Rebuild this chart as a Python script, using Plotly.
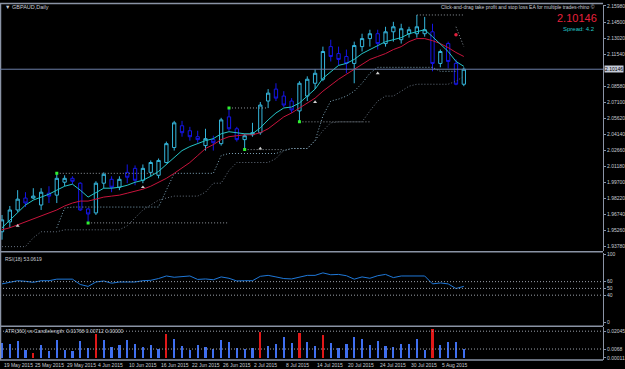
import plotly.graph_objects as go

W, H = 625, 369

# ---------------- data ----------------
date_labels = ["19 May 2015", "25 May 2015", "29 May 2015", "4 Jun 2015", "10 Jun 2015",
               "16 Jun 2015", "22 Jun 2015", "26 Jun 2015", "2 Jul 2015", "8 Jul 2015",
               "14 Jul 2015", "20 Jul 2015", "24 Jul 2015", "30 Jul 2015", "5 Aug 2015"]
date_label_bars = [0, 4, 8, 12, 16, 20, 24, 28, 32, 36, 40, 44, 48, 52, 56]

opens = [1.9515, 1.9606, 1.9716, 1.9826, 1.9826, 1.9762, 1.9871, 1.9853, 1.9972, 2.0008,
         1.9963, 1.9725, 1.9689, 1.9963, 1.9999, 1.9926, 2.0063, 2.0100, 1.9990, 2.0063,
         2.0036, 2.0154, 2.0292, 2.0493, 2.0447, 2.0392, 2.0310, 2.0365, 2.0328, 2.0575,
         2.0465, 2.0365, 2.0410, 2.0429, 2.0721, 2.0831, 2.0767, 2.0721, 2.0630, 2.0767,
         2.0885, 2.0922, 2.1223, 2.1159, 2.1132, 2.1068, 2.1223, 2.1297, 2.1342, 2.1251,
         2.1360, 2.1287, 2.1342, 2.1342, 2.1342, 2.1360, 2.1068, 2.1251, 2.1068, 2.0876]
highs = [1.9670, 1.9753, 1.9899, 1.9880, 1.9917, 1.9917, 1.9935, 2.0054, 2.0036, 2.0027,
         1.9972, 1.9734, 1.9981, 2.0063, 2.0027, 2.0027, 2.0136, 2.0127, 2.0136, 2.0173,
         2.0191, 2.0347, 2.0538, 2.0538, 2.0483, 2.0447, 2.0465, 2.0401, 2.0566, 2.0657,
         2.0483, 2.0419, 2.0520, 2.0712, 2.0831, 2.0885, 2.0812, 2.0748, 2.0904, 2.0949,
         2.1013, 2.1223, 2.1287, 2.1223, 2.1196, 2.1269, 2.1342, 2.1379, 2.1379, 2.1406,
         2.1452, 2.1434, 2.1406, 2.1515, 2.1497, 2.1434, 2.1196, 2.1269, 2.1105, 2.1032]
lows = [1.9442, 1.9552, 1.9698, 1.9743, 1.9816, 1.9716, 1.9780, 1.9780, 1.9935, 1.9954,
        1.9707, 1.9606, 1.9670, 1.9917, 1.9880, 1.9899, 1.9963, 1.9944, 1.9963, 2.0027,
        2.0008, 2.0145, 2.0264, 2.0392, 2.0356, 2.0337, 2.0264, 2.0264, 2.0310, 2.0447,
        2.0347, 2.0273, 2.0392, 2.0410, 2.0657, 2.0721, 2.0666, 2.0611, 2.0529, 2.0721,
        2.0831, 2.0904, 2.1086, 2.1050, 2.0977, 2.0885, 2.1178, 2.1223, 2.1196, 2.1223,
        2.1269, 2.1251, 2.1306, 2.1306, 2.1315, 2.0995, 2.1032, 2.1022, 2.0867, 2.0858]
closes = [1.9625, 1.9716, 1.9816, 1.9780, 1.9844, 1.9880, 1.9844, 2.0008, 2.0008, 1.9981,
          1.9716, 1.9679, 1.9963, 2.0045, 1.9926, 1.9999, 2.0018, 1.9990, 2.0100, 2.0154,
          2.0173, 2.0328, 2.0520, 2.0429, 2.0392, 2.0365, 2.0374, 2.0337, 2.0547, 2.0465,
          2.0365, 2.0401, 2.0429, 2.0684, 2.0794, 2.0748, 2.0684, 2.0639, 2.0885, 2.0922,
          2.0977, 2.1178, 2.1132, 2.1105, 2.1068, 2.1233, 2.1297, 2.1342, 2.1251, 2.1360,
          2.1406, 2.1388, 2.1379, 2.1406, 2.1379, 2.1068, 2.1178, 2.1086, 2.0876, 2.10146]

fast_ma = [1.9552, 1.9625, 1.9698, 1.9762, 1.9807, 1.9835, 1.9862, 1.9899, 1.9935, 1.9954,
           1.9899, 1.9835, 1.9880, 1.9917, 1.9917, 1.9926, 1.9944, 1.9972, 1.9990, 2.0027,
           2.0072, 2.0136, 2.0209, 2.0264, 2.0301, 2.0328, 2.0356, 2.0374, 2.0419, 2.0438,
           2.0429, 2.0419, 2.0419, 2.0474, 2.0547, 2.0611, 2.0657, 2.0666, 2.0703, 2.0767,
           2.0831, 2.0931, 2.0995, 2.1050, 2.1068, 2.1105, 2.1159, 2.1196, 2.1233, 2.1269,
           2.1287, 2.1306, 2.1342, 2.1360, 2.1379, 2.1315, 2.1251, 2.1178, 2.1086, 2.1041]
slow_ma = [1.9533, 1.9552, 1.9579, 1.9606, 1.9634, 1.9661, 1.9689, 1.9716, 1.9753, 1.9780,
           1.9798, 1.9798, 1.9816, 1.9835, 1.9844, 1.9853, 1.9871, 1.9890, 1.9908, 1.9935,
           1.9972, 2.0008, 2.0054, 2.0100, 2.0154, 2.0218, 2.0283, 2.0319, 2.0365, 2.0392,
           2.0401, 2.0410, 2.0410, 2.0429, 2.0465, 2.0520, 2.0575, 2.0611, 2.0657, 2.0703,
           2.0748, 2.0812, 2.0867, 2.0922, 2.0968, 2.1013, 2.1059, 2.1105, 2.1132, 2.1159,
           2.1196, 2.1223, 2.1269, 2.1297, 2.1297, 2.1278, 2.1251, 2.1214, 2.1169, 2.1132]

# trailing-stop style dotted indicator lines (None = not drawn)
stop_upper = [None, None, None, None, None, None, None, 1.9552, 1.9734, 1.9743,
              1.9743, 1.9743, 1.9743, 1.9743, 1.9743, 1.9743, 1.9743, 1.9743, 1.9743, 1.9743,
              1.9743, 1.9899, 2.0054, 2.0054, 2.0054, 2.0054, 2.0054, 2.0054, 2.0218, 2.0237,
              2.0237, 2.0237, 2.0237, 2.0237, 2.0237, 2.0237, 2.0264, 2.0283, 2.0283, 2.0283,
              2.0356, 2.0584, 2.0721, 2.0739, 2.0767, 2.0812, 2.0885, 2.0977, 2.1032, 2.1032,
              2.1032, 2.1032, 2.1032, 2.1032, 2.1032, 2.1032, 2.0995, 2.0995, 2.0995, None]
stop_lower = [1.9378, 1.9378, 1.9378, 1.9378, 1.9460, 1.9515, 1.9515, 1.9515, 1.9533, 1.9533,
              1.9533, 1.9533, 1.9533, 1.9533, 1.9533, 1.9533, 1.9570, 1.9643, 1.9716, 1.9762,
              1.9807, 1.9826, 1.9844, 1.9844, 1.9844, 1.9844, 1.9880, 1.9963, 1.9963, 2.0081,
              2.0154, 2.0154, 2.0154, 2.0154, 2.0154, 2.0191, 2.0264, 2.0283, 2.0283, 2.0283,
              2.0356, 2.0447, 2.0520, 2.0529, 2.0529, 2.0529, 2.0529, 2.0630, 2.0721, 2.0767,
              2.0767, 2.0812, 2.0858, 2.0876, 2.0876, 2.0876, 2.0876, 2.0876, 2.0904, 2.0949]
stop_down = [None] * 58 + [2.1406, 2.1223]

# fractal levels: (start bar, end bar, price)
fractal_bars = [7, 11, 29, 31, 38]
fractal_ends = [20, 29, 34, 36, 47]
fractal_prices = [2.0054, 1.9597, 2.0657, 2.0273, 2.0529]
top_level_bars = [53, 59]
top_level_price = 2.1515
signal_bars = [2, 18, 33, 40, 48]
signal_prices = [1.9570, 1.9926, 2.0283, 2.0712, 2.0977]
sell_signal_bar = [58]
sell_signal_price = [2.1333]

rsi = [56.7, 59.5, 61.4, 60.5, 59.0, 61.4, 61.4, 63.7, 63.7, 63.7,
       55.8, 53.0, 59.5, 61.0, 57.7, 59.5, 59.5, 59.5, 61.4, 62.0,
       64.6, 68.4, 66.5, 67.4, 68.4, 63.3, 64.0, 62.8, 67.0, 65.0,
       61.0, 61.4, 61.4, 67.9, 69.3, 67.0, 64.6, 64.0, 67.0, 69.3,
       69.3, 73.0, 70.2, 70.7, 68.8, 63.7, 67.0, 65.0, 68.8, 70.7,
       66.0, 68.4, 68.4, 68.4, 68.4, 56.7, 58.1, 56.7, 49.8, 53.06]

candle_len = [0.0112, 0.0107, 0.0127, 0.0061, 0.0036, 0.0094, 0.0051, 0.0132, 0.0056, 0.0051,
              0.0127, 0.0074, 0.0183, 0.0137, 0.0081, 0.0094, 0.0137, 0.0102, 0.0081, 0.0097,
              0.0069, 0.0183, 0.0140, 0.0086, 0.0061, 0.0094, 0.0079, 0.0069, 0.0132, 0.0122,
              0.0076, 0.0069, 0.0074, 0.0196, 0.0086, 0.0107, 0.0160, 0.0114, 0.0188, 0.0122,
              0.0091, 0.0173, 0.0112, 0.0076, 0.0102, 0.0157, 0.0140, 0.0094, 0.0130, 0.0086,
              0.0081, 0.0102, 0.0102, 0.0140, 0.0056, 0.0216, 0.0094, 0.0122, 0.0122, 0.0066]
above_atr_bars = [4, 12, 21, 33, 38, 41, 55]

price_ticks = [2.1598, 2.1450, 2.1302, 2.1154, 2.0858, 2.0710, 2.0562, 2.0414, 2.0266,
               2.0118, 1.9970, 1.9822, 1.9674, 1.9526, 1.9378]
price_tick_text = ["2.15980", "2.14500", "2.13020", "2.11540", "2.08580", "2.07100", "2.05620",
                   "2.04140", "2.02660", "2.01180", "1.99700", "1.98220", "1.96740", "1.95260", "1.93780"]
current_price = 2.10146
rsi_levels = [60, 50, 40]
rsi_ticks = [100, 60, 50, 40, 0]
atr_ticks = [0.02045, 0.0068, 0.00011]
atr_tick_text = ["0.02045", "0.0068", "0.00011"]

# ---------------- geometry ----------------
def ydom(top, bottom):
    return [1 - bottom / H, 1 - top / H]

AX_R = 604 / W
BAR_PX = 7.84
X0_PX = 2.0
x_range = [-X0_PX / BAR_PX, (604 - X0_PX) / BAR_PX]
n = len(closes)
xs = list(range(n))

FRAME = "#8a93a5"
TXT = "#c9ccd4"
FONT = "Liberation Sans"
DOT = "1px,2px"

fig = go.Figure()

# dotted indicator lines (behind candles)
fig.add_trace(go.Scatter(x=xs, y=stop_lower, mode="lines", connectgaps=False,
                         line=dict(color="#65707e", width=1, dash=DOT),
                         xaxis="x", yaxis="y", showlegend=False, hoverinfo="skip"))
fig.add_trace(go.Scatter(x=xs, y=stop_upper, mode="lines", connectgaps=False,
                         line=dict(color="#7ea4b8", width=1, dash=DOT),
                         xaxis="x", yaxis="y", showlegend=False, hoverinfo="skip"))
fig.add_trace(go.Scatter(x=xs, y=stop_down, mode="lines", connectgaps=False,
                         line=dict(color="#8a939d", width=1, dash=DOT),
                         xaxis="x", yaxis="y", showlegend=False, hoverinfo="skip"))
for b0, b1, pr in zip(fractal_bars, fractal_ends, fractal_prices):
    fig.add_trace(go.Scatter(x=[b0, b1], y=[pr, pr], mode="lines",
                             line=dict(color="#8f959d", width=1, dash=DOT),
                             xaxis="x", yaxis="y", showlegend=False, hoverinfo="skip"))
fig.add_trace(go.Scatter(x=top_level_bars, y=[top_level_price] * 2, mode="lines",
                         line=dict(color="#8f959d", width=1, dash=DOT),
                         xaxis="x", yaxis="y", showlegend=False, hoverinfo="skip"))

fig.add_trace(go.Candlestick(
    x=xs, open=opens, high=highs, low=lows, close=closes,
    increasing=dict(line=dict(color="#35b6dc", width=1), fillcolor="#000000"),
    decreasing=dict(line=dict(color="#1515e6", width=1), fillcolor="#000000"),
    whiskerwidth=0, xaxis="x", yaxis="y", showlegend=False, hoverinfo="skip"))
fig.add_trace(go.Scatter(x=xs, y=slow_ma, mode="lines", line=dict(color="#c8143c", width=1),
                         xaxis="x", yaxis="y", showlegend=False))
fig.add_trace(go.Scatter(x=xs, y=fast_ma, mode="lines", line=dict(color="#25c4c8", width=1),
                         xaxis="x", yaxis="y", showlegend=False))

fig.add_trace(go.Scatter(x=fractal_bars, y=fractal_prices, mode="markers",
                         marker=dict(color="#30f030", size=3, symbol="square"),
                         xaxis="x", yaxis="y", showlegend=False, hoverinfo="skip"))
fig.add_trace(go.Scatter(x=signal_bars, y=signal_prices, mode="markers",
                         marker=dict(color="#cfcfcf", size=3.5, symbol="triangle-up"),
                         xaxis="x", yaxis="y", showlegend=False, hoverinfo="skip"))
fig.add_trace(go.Scatter(x=sell_signal_bar, y=sell_signal_price, mode="markers",
                         marker=dict(color="#e0203c", size=3.5, symbol="circle"),
                         xaxis="x", yaxis="y", showlegend=False, hoverinfo="skip"))

fig.add_trace(go.Scatter(x=xs, y=rsi, mode="lines", line=dict(color="#1f78d8", width=1),
                         xaxis="x2", yaxis="y2", showlegend=False))

bar_colors = ["#e01818" if i in above_atr_bars else "#3f6ff0" for i in xs]
fig.add_trace(go.Bar(x=xs, y=candle_len, marker=dict(color=bar_colors, line=dict(width=0)),
                     width=0.28, xaxis="x3", yaxis="y3", showlegend=False))

axis_common = dict(showgrid=False, zeroline=False, showticklabels=False, ticks="",
                   range=x_range, domain=[0, AX_R], fixedrange=True)
ytick_common = dict(showgrid=False, zeroline=False, side="right", ticks="outside", ticklen=2,
                    tickcolor=FRAME, tickfont=dict(size=5, color=TXT, family=FONT),
                    showline=True, linecolor=FRAME, linewidth=1, mirror=False)

fig.update_layout(
    width=W, height=H, margin=dict(l=0, r=0, t=0, b=0),
    paper_bgcolor="#000000", plot_bgcolor="#000000",
    showlegend=False, bargap=0, boxgap=0.4,
    xaxis=dict(anchor="y", rangeslider=dict(visible=False), **axis_common),
    xaxis2=dict(anchor="y2", matches="x", **axis_common),
    xaxis3=dict(anchor="y3", matches="x", **axis_common),
    yaxis=dict(anchor="x", domain=ydom(3, 250), range=[1.93409, 2.16072],
               tickvals=price_ticks, ticktext=price_tick_text, **ytick_common),
    yaxis2=dict(anchor="x2", domain=ydom(252, 326), range=[-5.9, 102.9],
                tickvals=rsi_ticks, ticktext=[str(v) for v in rsi_ticks], **ytick_common),
    yaxis3=dict(anchor="x3", domain=ydom(327, 360), range=[-0.00164, 0.02349],
                tickvals=atr_ticks, ticktext=atr_tick_text, **ytick_common),
)

shapes = []
for yp in [1.5, 251, 326, 360]:
    shapes.append(dict(type="line", xref="paper", yref="paper", x0=0, x1=AX_R,
                       y0=1 - yp / H, y1=1 - yp / H, line=dict(color=FRAME, width=1.5)))
shapes.append(dict(type="line", xref="paper", yref="paper", x0=0.5 / W, x1=0.5 / W,
                   y0=1 - 360 / H, y1=1 - 1.5 / H, line=dict(color=FRAME, width=1.5)))
shapes.append(dict(type="line", xref="paper", yref="y", x0=0, x1=AX_R,
                   y0=current_price, y1=current_price, line=dict(color="#6b7fa8", width=1)))
for lv in rsi_levels:
    shapes.append(dict(type="line", xref="paper", yref="y2", x0=0, x1=AX_R, y0=lv, y1=lv,
                       line=dict(color="#9aa0aa", width=1, dash=DOT)))
for lv in atr_ticks[:2]:
    shapes.append(dict(type="line", xref="paper", yref="y3", x0=0, x1=AX_R, y0=lv, y1=lv,
                       line=dict(color="#9aa0aa", width=1, dash=DOT)))
fig.update_layout(shapes=shapes)

ann = []
ann.append(dict(text="▼ GBPAUD,Daily", x=3 / W, y=1 - 5 / H, xref="paper", yref="paper",
                xanchor="left", yanchor="middle", showarrow=False,
                font=dict(size=5.5, color=TXT, family=FONT)))
ann.append(dict(text="Click-and-drag take profit and stop loss EA for multiple trades-rhino ©",
                x=598 / W, y=1 - 5 / H, xref="paper", yref="paper", xanchor="right",
                yanchor="middle", showarrow=False, font=dict(size=5, color=TXT, family=FONT)))
ann.append(dict(text="2.10146", x=600 / W, y=1 - 16 / H, xref="paper", yref="paper",
                xanchor="right", yanchor="middle", showarrow=False,
                font=dict(size=11, color="#e8203c", family=FONT)))
ann.append(dict(text="Spread: 4.2", x=598 / W, y=1 - 27 / H, xref="paper", yref="paper",
                xanchor="right", yanchor="middle", showarrow=False,
                font=dict(size=6, color="#23c6c6", family=FONT)))
ann.append(dict(text="2.10146", x=605 / W, y=current_price, xref="paper", yref="y",
                xanchor="left", yanchor="middle", showarrow=False, bgcolor="#c5cbd8",
                borderpad=0, font=dict(size=5, color="#000000", family=FONT)))
ann.append(dict(text="RSI(18) 53.0619", x=3 / W, y=1 - 258 / H, xref="paper", yref="paper",
                xanchor="left", yanchor="middle", showarrow=False,
                font=dict(size=5, color=TXT, family=FONT)))
ann.append(dict(text="ATR(360) vs Candlelength: 0.01768 0.00712 0.00000", x=3 / W,
                y=1 - 331 / H, xref="paper", yref="paper", xanchor="left", yanchor="middle",
                showarrow=False, font=dict(size=5, color=TXT, family=FONT)))
for b, t in zip(date_label_bars, date_labels):
    ann.append(dict(text=t, x=b, y=1 - 364.5 / H, xref="x3", yref="paper", xanchor="left",
                    yanchor="middle", showarrow=False, font=dict(size=5, color=TXT, family=FONT)))
fig.update_layout(annotations=ann)

fig.write_html("out.html")
